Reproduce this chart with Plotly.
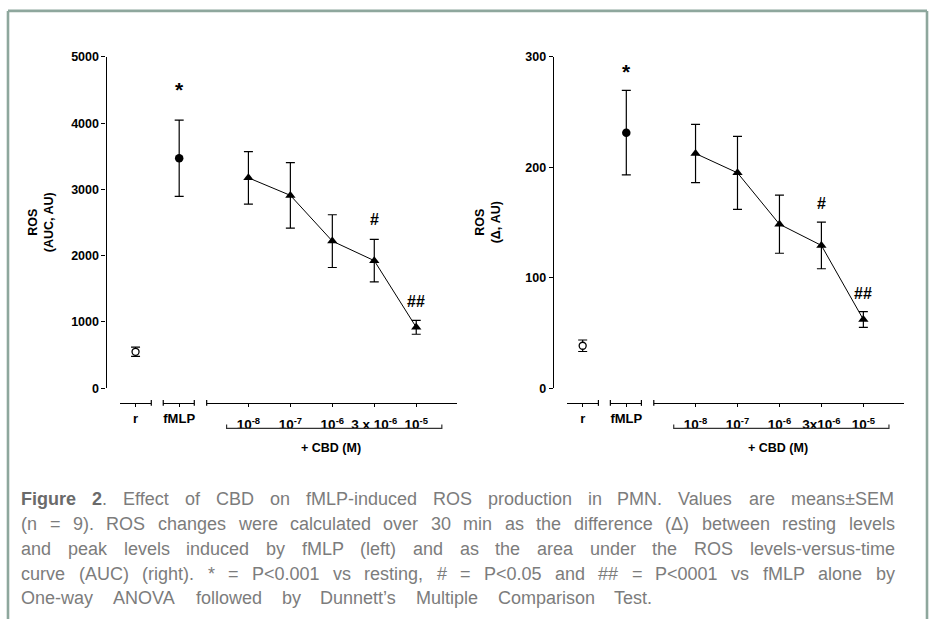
import plotly.graph_objects as go

# ---------------- data ----------------
groups = ["r", "fMLP", "1e-8", "1e-7", "1e-6", "3e-6", "1e-5"]
tick_left = ["<b>r</b>", "<b>fMLP</b>", "<b>10<sup>-8</sup></b>", "<b>10<sup>-7</sup></b>",
             "<b>10<sup>-6</sup></b>", "<b>3 x 10<sup>-6</sup></b>", "<b>10<sup>-5</sup></b>"]
tick_right = ["<b>r</b>", "<b>fMLP</b>", "<b>10<sup>-8</sup></b>", "<b>10<sup>-7</sup></b>",
              "<b>10<sup>-6</sup></b>", "<b>3x10<sup>-6</sup></b>", "<b>10<sup>-5</sup></b>"]
auc_mean = [550, 3470, 3175, 2910, 2220, 1925, 920]
auc_sem = [70, 575, 396, 495, 398, 320, 105]
delta_mean = [38.5, 231.4, 212.5, 195.0, 148.5, 129.3, 62.2]
delta_sem = [5.2, 38.2, 26.3, 33.0, 26.3, 21.1, 7.1]
yticks_auc = [0, 1000, 2000, 3000, 4000, 5000]
yticks_delta = [0, 100, 200, 300]
sig_text = ["*", "#", "##"]
sig_group = [1, 5, 6]
sig_auc_y = [4500, 2540, 1310]
sig_delta_y = [287, 167, 86]

caption_lines = [
    "Figure 2. Effect of CBD on fMLP-induced ROS production in PMN. Values are means\u00b1SEM",
    "(n = 9). ROS changes were calculated over 30 min as the difference (\u0394) between resting levels",
    "and peak levels induced by fMLP (left) and as the area under the ROS levels-versus-time",
    "curve (AUC) (right). * = P<0.001 vs resting, # = P<0.05 and ## = P<0001 vs fMLP alone by",
    "One-way ANOVA followed by Dunnett\u2019s Multiple Comparison Test.",
]

# ---------------- layout constants ----------------
W, H = 935, 625
def fx(px):
    return px / W
def fy(py):
    return 1 - py / H

UNIT = 42.0
cat_pos = [0.0, 1.04, 2.69, 3.69, 4.69, 5.69, 6.69]
seg_idx = [[0], [1], [2, 3, 4, 5, 6]]
seg_bounds = [(-0.365, 0.375), (0.66, 1.40), (1.695, 7.67)]
seg_caps = [(False, True), (True, True), (True, False)]
panel_origin = [135.7, 583.3]
Y_TOP, Y_BOT, X_AXIS_Y = 51, 390, 405
BRACKET = (2.17, 7.30)
BRACKET_Y = 431
FONT = "Liberation Sans, Arial, Helvetica, sans-serif"
BORDER = "#8ea79d"

fig = go.Figure()
layout = dict(width=W, height=H, margin=dict(l=0, r=0, t=0, b=0),
              paper_bgcolor="white", plot_bgcolor="rgba(0,0,0,0)",
              showlegend=False, font=dict(family=FONT, color="black", size=12))
shapes = []
annotations = []

panels = [
    dict(mean=auc_mean, sem=auc_sem, yticks=yticks_auc, yr=[0, 5000], ticks=tick_left,
         title="<b>ROS</b><br><b>(AUC, AU)</b>", sig_y=sig_auc_y),
    dict(mean=delta_mean, sem=delta_sem, yticks=yticks_delta, yr=[0, 300], ticks=tick_right,
         title="<b>ROS</b><br><b>(\u0394, AU)</b>", sig_y=sig_delta_y),
]

for p, pan in enumerate(panels):
    org = panel_origin[p]
    yname = "yaxis" if p == 0 else "yaxis2"
    yref = "y" if p == 0 else "y2"
    layout[yname] = dict(
        domain=[fy(Y_BOT), fy(Y_TOP)], range=pan["yr"], anchor="free",
        position=fx(org - 30), showline=True, linecolor="black", linewidth=1.2,
        ticks="outside", ticklen=4, tickwidth=1.2, tickcolor="black",
        tickvals=pan["yticks"], tickfont=dict(size=12.5, weight="bold"),
        showgrid=False, zeroline=False, fixedrange=True)
    for s in range(3):
        k = p * 3 + s + 1
        xname = "xaxis" if k == 1 else f"xaxis{k}"
        xref = "x" if k == 1 else f"x{k}"
        b0, b1 = seg_bounds[s]
        idx = seg_idx[s]
        layout[xname] = dict(
            domain=[fx(org + b0 * UNIT), fx(org + b1 * UNIT)], range=[b0, b1],
            anchor="free", position=fy(X_AXIS_Y), showline=True, linecolor="black",
            linewidth=1.2, ticks="outside", ticklen=3, tickwidth=1.2, tickcolor="black",
            tickvals=[cat_pos[i] for i in idx], ticktext=[pan["ticks"][i] for i in idx],
            tickfont=dict(size=(13.5 if s == 2 else 13)), tickangle=0,
            ticklabelstandoff=(6 if s == 2 else 0),
            showgrid=False, zeroline=False, fixedrange=True)
        # caps at segment ends
        for side, on in zip((b0, b1), seg_caps[s]):
            if on:
                xp = fx(org + side * UNIT)
                shapes.append(dict(type="line", xref="paper", yref="paper", x0=xp, x1=xp,
                                   y0=fy(X_AXIS_Y - 3), y1=fy(X_AXIS_Y + 3),
                                   line=dict(color="black", width=1.2)))
        xs = [cat_pos[i] for i in idx]
        ys = [pan["mean"][i] for i in idx]
        es = [pan["sem"][i] for i in idx]
        if s == 0:
            marker = dict(symbol="circle", size=7, color="white", line=dict(color="black", width=1.3))
            mode = "markers"
        elif s == 1:
            marker = dict(symbol="circle", size=8.5, color="black", line=dict(color="black", width=0))
            mode = "markers"
        else:
            marker = dict(symbol="triangle-up", size=9, color="black", line=dict(color="black", width=0))
            mode = "lines+markers"
        fig.add_trace(go.Scatter(
            x=xs, y=ys, xaxis=xref, yaxis=yref, mode=mode, marker=marker,
            line=dict(color="black", width=1),
            error_y=dict(type="data", array=es, color="black", thickness=1.2, width=4.5),
            cliponaxis=False, hoverinfo="skip"))
    # significance labels
    for t, g, yv in zip(sig_text, sig_group, pan["sig_y"]):
        s = 1 if g == 1 else 2
        k = p * 3 + s + 1
        xref = "x" if k == 1 else f"x{k}"
        annotations.append(dict(text=f"<b>{t}</b>", x=cat_pos[g], y=yv, xref=xref, yref=yref,
                                showarrow=False, xanchor="center", yanchor="middle",
                                font=dict(size=(21 if t == "*" else 16))))
    # bracket under CBD group
    bx0 = fx(org + BRACKET[0] * UNIT)
    bx1 = fx(org + BRACKET[1] * UNIT)
    shapes.append(dict(type="path", xref="paper", yref="paper",
                       path=f"M {bx0},{fy(BRACKET_Y - 4)} L {bx0},{fy(BRACKET_Y)} L {bx1},{fy(BRACKET_Y)} L {bx1},{fy(BRACKET_Y - 4)}",
                       line=dict(color="#333333", width=1.2)))
    annotations.append(dict(text="<b>+ CBD (M)</b>", x=fx(org + 4.65 * UNIT), y=fy(451),
                            xref="paper", yref="paper", showarrow=False,
                            xanchor="center", yanchor="middle", font=dict(size=12.5)))
    # y-axis title
    annotations.append(dict(text=pan["title"], x=fx(org - 94.5), y=fy(220), xref="paper",
                            yref="paper", showarrow=False, textangle=-90,
                            xanchor="center", yanchor="middle", font=dict(size=12.5)))

# frame
for (x0, y0, x1, y1) in [(8, 4, 8, 626), (8, 4, 928, 4), (928, 4, 928, 626)]:
    shapes.append(dict(type="line", xref="paper", yref="paper", x0=fx(x0), x1=fx(x1),
                       y0=fy(y0), y1=fy(y1), line=dict(color=BORDER, width=2.6)))

# ---------------- caption (justified, Arial metrics) ----------------
_reg = {}
for ch, w in zip(" !\"#$%&'()*+,-./", [278, 278, 355, 556, 556, 889, 667, 191, 333, 333, 389, 584, 278, 333, 278, 278]):
    _reg[ch] = w
for ch in "0123456789":
    _reg[ch] = 556
for ch, w in zip(":;<=>?", [278, 278, 584, 584, 584, 556]):
    _reg[ch] = w
for ch, w in zip("ABCDEFGHIJKLMNOPQRSTUVWXYZ",
                 [667, 667, 722, 722, 667, 611, 778, 722, 278, 500, 667, 556, 833, 722, 778, 667, 778, 722, 667, 611, 722, 667, 944, 667, 667, 611]):
    _reg[ch] = w
for ch, w in zip("abcdefghijklmnopqrstuvwxyz",
                 [556, 556, 500, 556, 556, 278, 556, 556, 222, 222, 500, 222, 833, 556, 556, 556, 556, 333, 500, 278, 556, 500, 722, 500, 500, 500]):
    _reg[ch] = w
_reg["\u00b1"] = 584
_reg["\u0394"] = 668
_reg["\u2019"] = 222
_bold = {"F": 611, "i": 278, "g": 611, "u": 611, "r": 389, "e": 556, "2": 556}

CAP_FS = 18
CAP_LEFT, CAP_RIGHT, CAP_LAST_RIGHT = 21.5, 895.5, 655
CAP_Y0, CAP_DY = 503, 25.5
CAP_COLOR = "#7c7c7c"
BOLD_COLOR = "#6a6a6a"

def esc(s):
    return s.replace("&", "&amp;").replace("<", "&lt;").replace(">", "&gt;")

for li, line in enumerate(caption_lines):
    words = line.split(" ")
    toks = []
    for wi, w in enumerate(words):
        if li == 0 and wi == 0:
            toks.append((f"<span style='color:{BOLD_COLOR}'><b>{w}</b></span>", sum(_bold[c] for c in w)))
        elif li == 0 and wi == 1:
            toks.append((f"<span style='color:{BOLD_COLOR}'><b>2</b></span>.", _bold["2"] + _reg["."]))
        else:
            toks.append((esc(w), sum(_reg.get(c, 556) for c in w)))
    widths = [t[1] * CAP_FS / 1000 for t in toks]
    right = CAP_LAST_RIGHT if li == len(caption_lines) - 1 else CAP_RIGHT
    gap = (right - CAP_LEFT - sum(widths)) / (len(toks) - 1)
    xcur = CAP_LEFT
    for (txt, _), wpx in zip(toks, widths):
        annotations.append(dict(text=txt, x=fx(xcur), y=fy(CAP_Y0 + li * CAP_DY),
                                xref="paper", yref="paper", showarrow=False,
                                xanchor="left", yanchor="middle", borderpad=0, borderwidth=0,
                                font=dict(size=CAP_FS, color=CAP_COLOR)))
        xcur += wpx + gap

layout["shapes"] = shapes
layout["annotations"] = annotations
fig.update_layout(**layout)
fig.write_html("out.html", config={"displayModeBar": False},
               post_script="document.body.style.margin='0px';document.body.style.overflow='hidden';")
